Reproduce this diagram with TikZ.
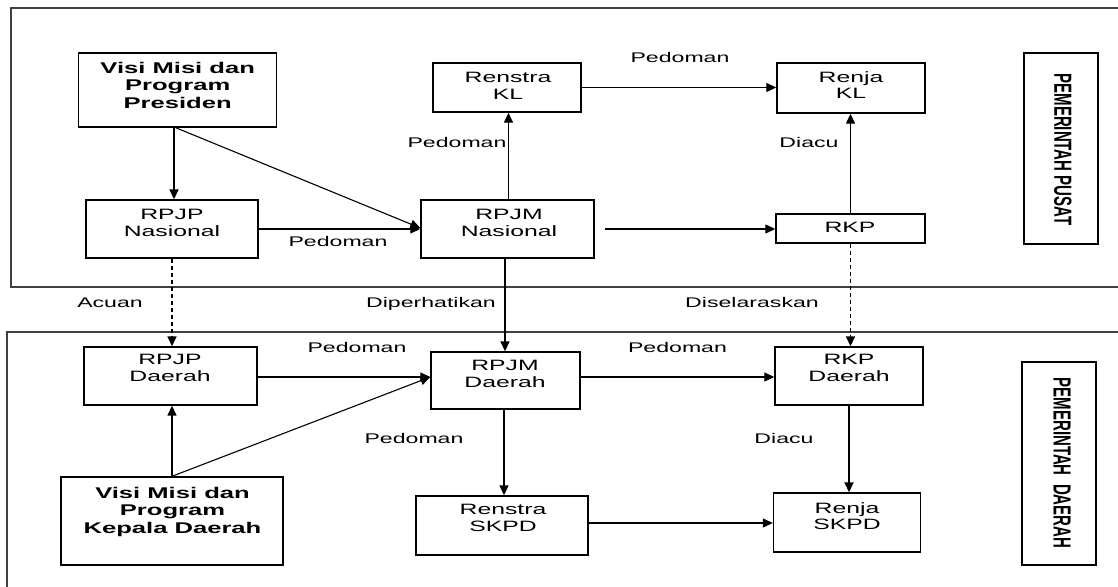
\documentclass[tikz,border=0pt]{standalone}
\usepackage{fontspec}
\setmainfont{Liberation Sans}[FakeStretch=1.65]
\newfontfamily\rotfont{Liberation Sans}
\usetikzlibrary{arrows.meta,calc}
\begin{document}
\begin{tikzpicture}[x=1pt,y=-1pt,
  box/.style={draw, line width=1.4pt, inner sep=0},
  txt/.style={align=center, inner sep=0, anchor=north, font=\fontsize{15}{16.8}\selectfont},
  btxt/.style={align=center, inner sep=0, anchor=north, font=\fontsize{15.5}{17.5}\selectfont\bfseries},
  lab/.style={inner sep=0, anchor=base, font=\fontsize{14}{16}\selectfont},
  rot/.style={rotate=-90, inner sep=0, font=\rotfont\fontsize{15}{17}\selectfont\bfseries},
  arr/.style={-{Triangle[length=10pt,width=9pt]}, line width=1.1pt},
  tarr/.style={arr, line width=1.8pt},
  darr/.style={arr, line width=1.6pt, dash pattern=on 4pt off 3pt},
  panel/.style={draw=black!75, line width=1.6pt}]
\useasboundingbox (0,0) rectangle (1118,586);
\clip (0,0) rectangle (1118,586);
% panels
\draw[panel] (10.7,8) rectangle (1140,287);
\draw[panel] (7,332) rectangle (1140,620);
% boxes top
\node[box, minimum width=198, minimum height=74] (visip) at (177.7,90) {};
\node[box, minimum width=172, minimum height=58] (rpjpn) at (172,229) {};
\node[box, minimum width=148, minimum height=49] (renstrakl) at (507,87.5) {};
\node[box, minimum width=173, minimum height=58] (rpjmn) at (507.5,229) {};
\node[box, minimum width=148, minimum height=50] (renjakl) at (851,88) {};
\node[box, minimum width=149, minimum height=29] (rkp) at (850.5,228.5) {};
\node[box, minimum width=74, minimum height=191] (pusat) at (1061,148.5) {};
% boxes bottom
\node[box, minimum width=173, minimum height=58] (rpjpd) at (170.5,376) {};
\node[box, minimum width=149, minimum height=57] (rpjmd) at (505.5,380.5) {};
\node[box, minimum width=148, minimum height=58] (rkpd) at (849,376) {};
\node[box, minimum width=222, minimum height=88] (visikd) at (172,521) {};
\node[box, minimum width=172, minimum height=59] (renstraskpd) at (502,525.5) {};
\node[box, minimum width=147, minimum height=59] (renjaskpd) at (847,522.5) {};
\node[box, minimum width=74, minimum height=203] (daerah) at (1059,463.5) {};
% box texts
\node[btxt] (visipt) at (177.7,62) {Visi Misi dan\\Program\\Presiden};
\node[txt] (rpjpnt) at (172,209) {RPJP\\Nasional};
\node[txt] (renstraklt) at (508,72) {Renstra\\KL};
\node[txt] (rpjmnt) at (509,209) {RPJM\\Nasional};
\node[txt] (renjaklt) at (851,71) {Renja\\KL};
\node[txt] (rkpt) at (850,222) {RKP};
\node[rot] (pusatt) at (1063,149.5) {\scalebox{1}[1.65]{PEMERINTAH PUSAT}};
\node[txt] (rpjpdt) at (170,354) {RPJP\\Daerah};
\node[txt] (rpjmdt) at (505,360) {RPJM\\Daerah};
\node[txt] (rkpdt) at (849,354) {RKP\\Daerah};
\node[btxt] (visikdt) at (172.5,487) {Visi Misi dan\\Program\\Kepala Daerah};
\node[txt] (renstraskpdt) at (503,504) {Renstra\\SKPD};
\node[txt] (renjaskpdt) at (847,502) {Renja\\SKPD};
\node[rot] (daeraht) at (1062,463) {\scalebox{1}[1.65]{PEMERINTAH\ \ DAERAH}};
% connectors top
\draw[tarr] ([xshift=-3.7pt]visip.south) -- ([xshift=-3.7pt]visip.south |- rpjpn.north);
\draw[arr] ([xshift=-2pt]visip.south) -- ([yshift=1pt]rpjmn.west);
\draw[arr] (rpjpn.east) -- (rpjmn.west);
\draw[arr, line width=1.4pt] ([xshift=1pt]rpjmn.north) -- ([xshift=1pt]rpjmn.north |- renstrakl.south);
\draw[arr] (renstrakl.east) -- (renstrakl.east -| renjakl.west);
\draw[arr] ([xshift=10pt]rpjmn.east) -- (rpjmn.east -| rkp.west);
\draw[arr, line width=1.4pt] (rkp.north) -- (rkp.north |- renjakl.south);
% connectors between panels
\draw[darr] (rpjpn.south) -- (rpjpn.south |- rpjpd.north);
\draw[tarr] ([xshift=-2.5pt]rpjmn.south) -- ([xshift=-2.5pt]rpjmn.south |- rpjmd.north);
\draw[darr] (rkp.south) -- (rkp.south |- rkpd.north);
% connectors bottom
\draw[arr] ([yshift=-1pt]rpjpd.east) -- ([yshift=-1pt]rpjpd.east -| rpjmd.west);
\draw[tarr, line width=1.5pt] (visikd.north) -- (visikd.north |- rpjpd.south);
\draw[arr] (visikd.north) -- ([yshift=3.5pt]rpjmd.west);
\draw[arr] ([yshift=3.5pt]rpjmd.east) -- ([yshift=3.5pt]rpjmd.east -| rkpd.west);
\draw[tarr, line width=1.5pt] ([xshift=-1.5pt]rpjmd.south) -- ([xshift=-1.5pt]rpjmd.south |- renstraskpd.north);
\draw[tarr] (rkpd.south) -- (rkpd.south |- renjaskpd.north);
\draw[arr] ([yshift=2.5pt]renstraskpd.east) -- ([yshift=2.5pt]renstraskpd.east -| renjaskpd.west);
% labels
\node[lab] (l1) at (680,63) {Pedoman};
\node[lab] (l2) at (457,147) {Pedoman};
\node[lab] (l3) at (809,147) {Diacu};
\node[lab] (l4) at (338,246) {Pedoman};
\node[lab] (l5) at (110,307) {Acuan};
\node[lab] (l6) at (431,307) {Diperhatikan};
\node[lab] (l7) at (752,307) {Diselaraskan};
\node[lab] (l8) at (357,352) {Pedoman};
\node[lab] (l9) at (677.5,352) {Pedoman};
\node[lab] (l10) at (414,443) {Pedoman};
\node[lab] (l11) at (784,443) {Diacu};
\end{tikzpicture}
\end{document}
